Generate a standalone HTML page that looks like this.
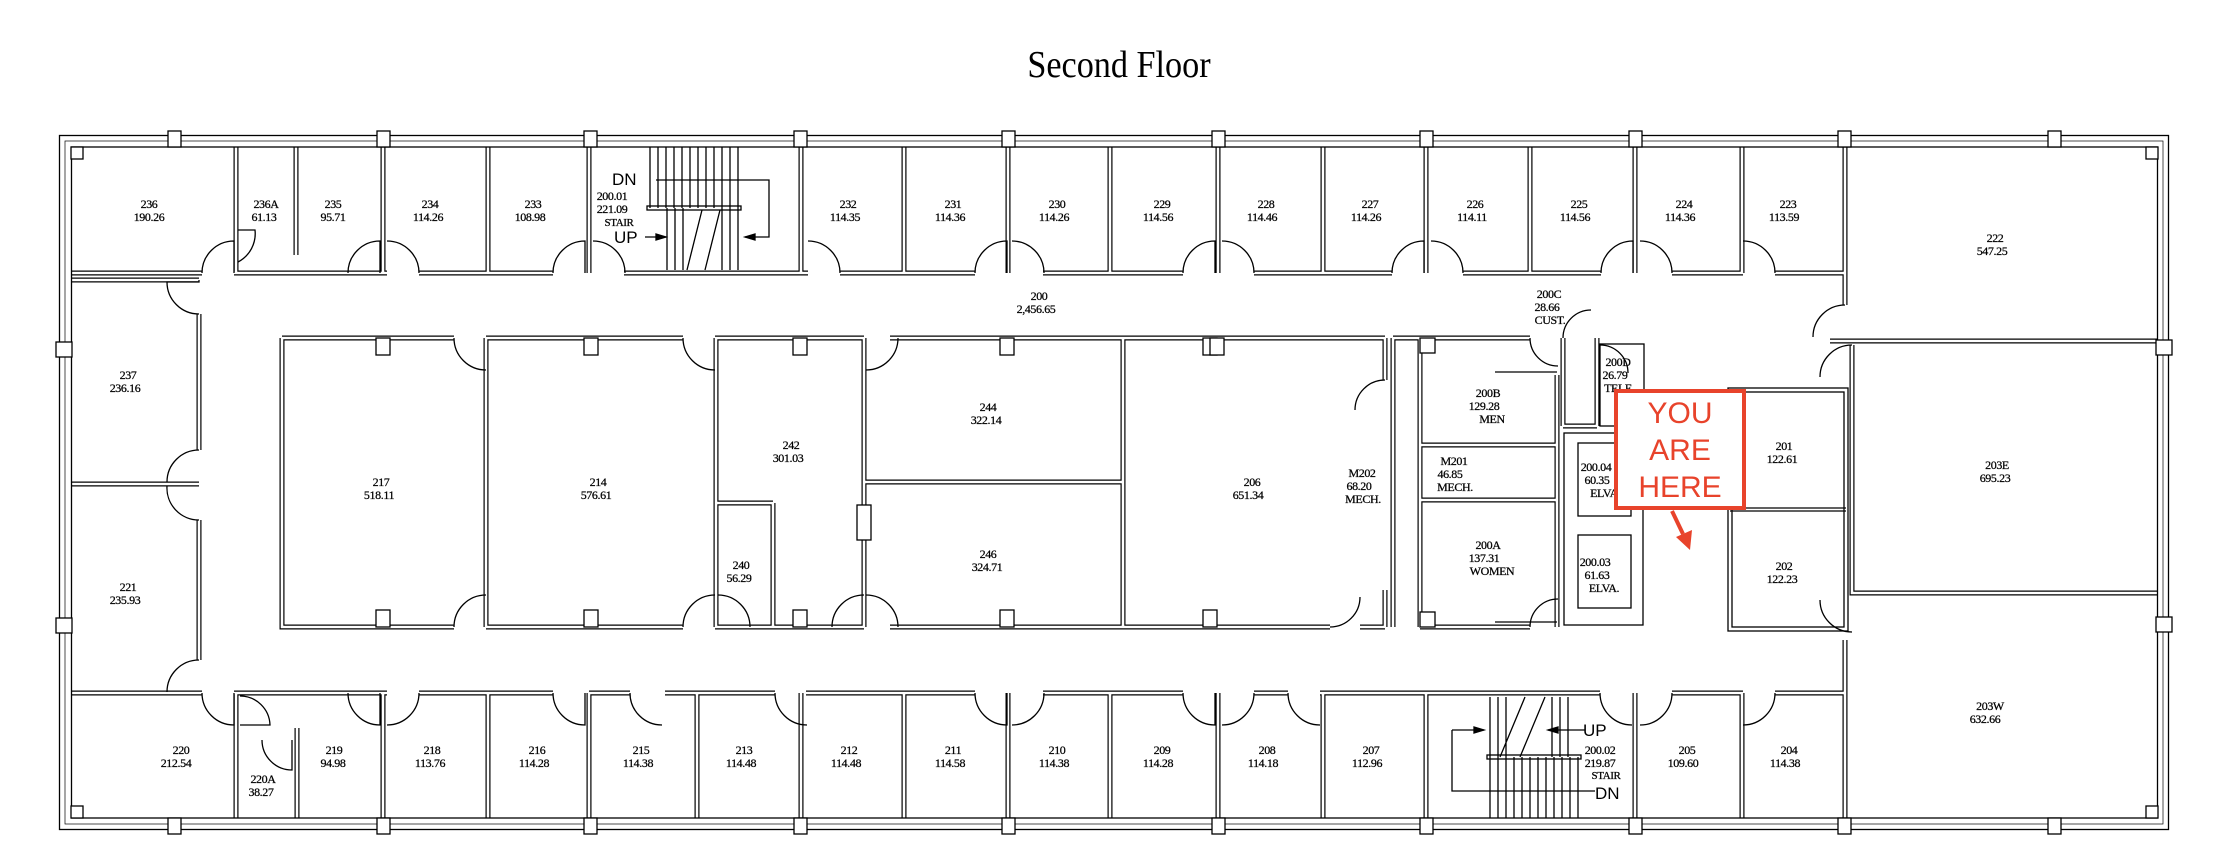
<!DOCTYPE html>
<html><head><meta charset="utf-8"><style>
html,body{margin:0;padding:0;background:#fff;}
svg{display:block;}
.t{font-family:"Liberation Serif",serif;font-size:12px;text-anchor:middle;fill:#000;stroke:#000;stroke-width:0.25;letter-spacing:-0.4px;}
.s{font-family:"Liberation Sans",sans-serif;font-size:17px;fill:#000;}
</style></head><body>
<svg width="2224" height="844" viewBox="0 0 2224 844" xmlns="http://www.w3.org/2000/svg">
<text x="1119" y="77" font-family="Liberation Serif, serif" font-size="38" text-anchor="middle" transform="translate(1119 0) scale(0.9 1) translate(-1119 0)">Second Floor</text>
<defs>
<g id="w" fill="none">
<path d="M71 273H202 M234 273H387 M419 273H553 M624 273H808 M840 273H975 M1043 273H1183 M1254 273H1392 M1463 273H1601 M1672 273H1743 M1775 273H1845"/>
<path d="M236 147V273 M296 147V255 M383 147V273 M488 147V273 M589 147V273 M801 147V273 M904 147V273 M1008 147V273 M1110 147V273 M1218 147V273 M1323 147V273 M1426 147V273 M1530 147V273 M1635 147V273 M1742 147V273 M1845 147V305"/>
<path d="M1830 341H2158 M1852 345V593H2158 M1845 640V818"/>
<path d="M71 693H202 M234 693H387 M419 693H553 M589 693H630 M665 693H775 M806 693H975 M1043 693H1183 M1254 693H1288 M1320 693H1600 M1672 693H1743 M1775 693H1845"/>
<path d="M236 693V818 M297 728V818 M383 693V818 M488 693V818 M589 693V818 M697 693V818 M801 693V818 M904 693V818 M1008 693V818 M1110 693V818 M1218 693V818 M1323 693V818 M1426 693V818 M1635 693V818 M1742 693V818"/>
<path d="M71 280H199 M71 484H199 M199 314V450 M199 520V660"/>
<path d="M282 338H454 M486 338H683 M715 338H864 M890 338H1385 M282 338V627H454 M486 627H683 M715 627H864 M890 627H1330 M1360 627H1385 M1385 338V380 M1385 590V627"/>
<path d="M486 338V627 M716 338V627 M864 338V627 M1123 338V627 M864 482H1123 M773 503V627 M716 503H773"/>
<path d="M1393 338V627 M1420 338V627 M1393 338H1530 M1557 375V627 M1420 627H1530 M1420 445H1557 M1420 500H1557 M1563 338V426 M1597 338V426 M1563 426H1597"/>
</g>
</defs>
<use href="#w" stroke="#000" stroke-width="5"/>
<use href="#w" stroke="#fff" stroke-width="2.6"/>
<g fill="none" stroke="#000" stroke-width="1.3">
<rect x="59.5" y="135.5" width="2109" height="694"/>
<rect x="71.5" y="147" width="2086" height="671"/>
<rect x="65" y="141" width="2098" height="683" stroke-width="0.7"/>
<g fill="#fff">
<rect x="168" y="131" width="13" height="16"/><rect x="377" y="131" width="13" height="16"/><rect x="584" y="131" width="13" height="16"/><rect x="794" y="131" width="13" height="16"/><rect x="1002" y="131" width="13" height="16"/><rect x="1212" y="131" width="13" height="16"/><rect x="1420" y="131" width="13" height="16"/><rect x="1629" y="131" width="13" height="16"/><rect x="1838" y="131" width="13" height="16"/><rect x="2048" y="131" width="13" height="16"/>
<rect x="168" y="818" width="13" height="16"/><rect x="377" y="818" width="13" height="16"/><rect x="584" y="818" width="13" height="16"/><rect x="794" y="818" width="13" height="16"/><rect x="1002" y="818" width="13" height="16"/><rect x="1212" y="818" width="13" height="16"/><rect x="1420" y="818" width="13" height="16"/><rect x="1629" y="818" width="13" height="16"/><rect x="1838" y="818" width="13" height="16"/><rect x="2048" y="818" width="13" height="16"/>
<rect x="56" y="342" width="16" height="15"/><rect x="56" y="618" width="16" height="15"/>
<rect x="2156" y="340" width="16" height="15"/><rect x="2156" y="617" width="16" height="15"/>
<rect x="71" y="147" width="12" height="12"/><rect x="2146" y="147" width="12" height="12"/><rect x="71" y="806" width="12" height="12"/><rect x="2146" y="806" width="12" height="12"/>
<rect x="376" y="338" width="14" height="17"/><rect x="584" y="338" width="14" height="17"/><rect x="793" y="338" width="14" height="17"/><rect x="1000" y="338" width="14" height="17"/><rect x="1203" y="338" width="14" height="17"/><rect x="1210" y="338" width="14" height="17"/>
<rect x="376" y="610" width="14" height="17"/><rect x="584" y="610" width="14" height="17"/><rect x="793" y="610" width="14" height="17"/><rect x="1000" y="610" width="14" height="17"/><rect x="1203" y="610" width="14" height="17"/>
<rect x="857" y="505" width="14" height="35"/>
<rect x="1420" y="338" width="15" height="15"/><rect x="1420" y="612" width="15" height="15"/>
</g>
<path d="M202 273A32 32 0 0 1 234 241V273 M348 273A32 32 0 0 1 380 241V273 M387 241A32 32 0 0 1 419 273 M553 273A32 32 0 0 1 585 241V273 M593 241A32 32 0 0 1 625 273 M808 241A32 32 0 0 1 840 273 M975 273A32 32 0 0 1 1007 241V273 M1012 241A32 32 0 0 1 1044 273 M1183 273A32 32 0 0 1 1215 241V273 M1222 241A32 32 0 0 1 1254 273 M1392 273A32 32 0 0 1 1424 241V273 M1431 241A32 32 0 0 1 1463 273 M1601 273A32 32 0 0 1 1633 241V273 M1640 241A32 32 0 0 1 1672 273 M1743 241A32 32 0 0 1 1775 273"/>
<path d="M238 230H255A32 32 0 0 1 238 262"/>
<path d="M202 693A32 32 0 0 0 234 725V693 M348 693A32 32 0 0 0 380 725V693 M387 725A32 32 0 0 0 419 693 M553 693A32 32 0 0 0 585 725V693 M630 693A32 32 0 0 0 662 725 M775 693A32 32 0 0 0 807 725 M975 693A32 32 0 0 0 1007 725V693 M1012 725A32 32 0 0 0 1044 693 M1183 693A32 32 0 0 0 1215 725V693 M1222 725A32 32 0 0 0 1254 693 M1288 693A32 32 0 0 0 1320 725 M1600 693A32 32 0 0 0 1632 725 M1640 725A32 32 0 0 0 1672 693 M1743 725A32 32 0 0 0 1775 693"/>
<path d="M240 696A30 30 0 0 1 270 725H240 M262 740A30 30 0 0 0 292 770V740"/>
<path d="M199 280V282H167A32 32 0 0 0 199 314 M199 450A32 32 0 0 0 167 482 M167 486A32 32 0 0 0 199 520 M199 660A32 32 0 0 0 167 692"/>
<path d="M454 338A32 32 0 0 0 486 370 M454 627A32 32 0 0 1 486 595 M683 338A32 32 0 0 0 715 370 M683 627A32 32 0 0 1 715 595 M718 595A32 32 0 0 1 750 627 M832 627A32 32 0 0 1 864 595 M866 595A32 32 0 0 1 898 627 M866 370A32 32 0 0 0 898 338 M1330 627A30 30 0 0 0 1360 597 M1385 380A30 30 0 0 0 1355 410 M1530 338A28 28 0 0 0 1558 366 M1530 627A28 28 0 0 1 1558 599 M1563 338A28 28 0 0 1 1591 310 M1600 345A28 28 0 0 1 1628 373"/>
<path d="M1845 305A32 32 0 0 0 1813 337 M1852 345A32 32 0 0 0 1820 377 M1820 600A32 32 0 0 0 1852 632"/>
<rect x="1564" y="433" width="79" height="192"/>
<rect x="1578" y="443" width="53" height="73"/>
<rect x="1578" y="535" width="53" height="73"/>
<rect x="1600" y="344" width="44" height="82"/>
<path d="M1495 372H1557 M1495 622H1557"/>
<rect x="1728" y="388" width="120" height="243"/>
<rect x="1732" y="392" width="112" height="235"/>
<path d="M1730 508H1846 M1730 511H1846"/>
<path d="M650 147V208 M658 147V208 M666 147V208 M674 147V208 M682 147V208 M690 147V208 M698 147V208 M706 147V208 M714 147V208 M722 147V208 M730 147V208 M738 147V208 M667 208V270 M675 208V270 M683 208V270 M722 208V270 M730 208V270 M738 208V270"/>
<rect x="647" y="206" width="94" height="4"/>
<path d="M656 180H769V237H745 M645 237H666 M687 270L702 210 M705 270L720 210"/>
<path d="M666 237l-10 -3v6z M745 237l10 -3v6z" fill="#000"/>
<path d="M1490 757V818 M1498 757V818 M1506 757V818 M1514 757V818 M1522 757V818 M1530 757V818 M1538 757V818 M1546 757V818 M1554 757V818 M1562 757V818 M1570 757V818 M1578 757V818 M1490 697V757 M1498 697V757 M1506 697V757 M1552 697V757 M1560 697V757 M1568 697V757 M1500 757L1525 697 M1520 757L1545 697"/>
<rect x="1487" y="755" width="94" height="4"/>
<path d="M1452 730V791H1595 M1452 730H1484 M1548 730H1585"/>
<path d="M1484 730l-10 -3v6z M1548 730l10 -3v6z" fill="#000"/>
</g>
<g class="t">
<text x="149" y="208">236</text><text x="149" y="221">190.26</text>
<text x="266" y="208">236A</text><text x="264" y="221">61.13</text>
<text x="333" y="208">235</text><text x="333" y="221">95.71</text>
<text x="430" y="208">234</text><text x="428" y="221">114.26</text>
<text x="533" y="208">233</text><text x="530" y="221">108.98</text>
<text x="612" y="200">200.01</text><text x="612" y="213">221.09</text><text x="619" y="226" font-size="11">STAIR</text>
<text x="848" y="208">232</text><text x="845" y="221">114.35</text>
<text x="953" y="208">231</text><text x="950" y="221">114.36</text>
<text x="1057" y="208">230</text><text x="1054" y="221">114.26</text>
<text x="1162" y="208">229</text><text x="1158" y="221">114.56</text>
<text x="1266" y="208">228</text><text x="1262" y="221">114.46</text>
<text x="1370" y="208">227</text><text x="1366" y="221">114.26</text>
<text x="1475" y="208">226</text><text x="1472" y="221">114.11</text>
<text x="1579" y="208">225</text><text x="1575" y="221">114.56</text>
<text x="1684" y="208">224</text><text x="1680" y="221">114.36</text>
<text x="1788" y="208">223</text><text x="1784" y="221">113.59</text>
<text x="1995" y="242">222</text><text x="1992" y="255">547.25</text>
<text x="1039" y="300">200</text><text x="1036" y="313">2,456.65</text>
<text x="128" y="379">237</text><text x="125" y="392">236.16</text>
<text x="128" y="591">221</text><text x="125" y="604">235.93</text>
<text x="381" y="486">217</text><text x="379" y="499">518.11</text>
<text x="598" y="486">214</text><text x="596" y="499">576.61</text>
<text x="791" y="449">242</text><text x="788" y="462">301.03</text>
<text x="988" y="411">244</text><text x="986" y="424">322.14</text>
<text x="988" y="558">246</text><text x="987" y="571">324.71</text>
<text x="741" y="569">240</text><text x="739" y="582">56.29</text>
<text x="1252" y="486">206</text><text x="1248" y="499">651.34</text>
<text x="1362" y="477">M202</text><text x="1359" y="490">68.20</text><text x="1363" y="503">MECH.</text>
<text x="1488" y="397">200B</text><text x="1484" y="410">129.28</text><text x="1492" y="423">MEN</text>
<text x="1454" y="465">M201</text><text x="1450" y="478">46.85</text><text x="1455" y="491">MECH.</text>
<text x="1488" y="549">200A</text><text x="1484" y="562">137.31</text><text x="1492" y="575">WOMEN</text>
<text x="1596" y="471">200.04</text><text x="1597" y="484">60.35</text><text x="1604" y="497">ELVA</text>
<text x="1595" y="566">200.03</text><text x="1597" y="579">61.63</text><text x="1604" y="592">ELVA.</text>
<text x="1549" y="298">200C</text><text x="1547" y="311">28.66</text><text x="1550" y="324">CUST.</text>
<text x="1618" y="366">200D</text><text x="1615" y="379">26.79</text><text x="1618" y="392">TELE</text>
<text x="1784" y="450">201</text><text x="1782" y="463">122.61</text>
<text x="1784" y="570">202</text><text x="1782" y="583">122.23</text>
<text x="1997" y="469">203E</text><text x="1995" y="482">695.23</text>
<text x="1990" y="710">203W</text><text x="1985" y="723">632.66</text>
<text x="181" y="754">220</text><text x="176" y="767">212.54</text>
<text x="263" y="783">220A</text><text x="261" y="796">38.27</text>
<text x="334" y="754">219</text><text x="333" y="767">94.98</text>
<text x="432" y="754">218</text><text x="430" y="767">113.76</text>
<text x="537" y="754">216</text><text x="534" y="767">114.28</text>
<text x="641" y="754">215</text><text x="638" y="767">114.38</text>
<text x="744" y="754">213</text><text x="741" y="767">114.48</text>
<text x="849" y="754">212</text><text x="846" y="767">114.48</text>
<text x="953" y="754">211</text><text x="950" y="767">114.58</text>
<text x="1057" y="754">210</text><text x="1054" y="767">114.38</text>
<text x="1162" y="754">209</text><text x="1158" y="767">114.28</text>
<text x="1267" y="754">208</text><text x="1263" y="767">114.18</text>
<text x="1371" y="754">207</text><text x="1367" y="767">112.96</text>
<text x="1687" y="754">205</text><text x="1683" y="767">109.60</text>
<text x="1789" y="754">204</text><text x="1785" y="767">114.38</text>
<text x="1600" y="754">200.02</text><text x="1600" y="767">219.87</text><text x="1606" y="779" font-size="11">STAIR</text>
</g>
<text class="s" x="612" y="185">DN</text>
<text class="s" x="614" y="243">UP</text>
<text class="s" x="1583" y="736">UP</text>
<text class="s" x="1595" y="799">DN</text>
<rect x="1616" y="391" width="128" height="117" fill="#fff" stroke="#e8432b" stroke-width="4"/>
<g font-family="Liberation Sans, sans-serif" font-size="30" fill="#e8432b" text-anchor="middle">
<text x="1680" y="423">YOU</text><text x="1680" y="460">ARE</text><text x="1680" y="497">HERE</text>
</g>
<path d="M1672 511L1683 534" stroke="#e8432b" stroke-width="4"/>
<path d="M1676 537L1692 530L1690 550Z" fill="#e8432b"/>
</svg>
</body></html>
